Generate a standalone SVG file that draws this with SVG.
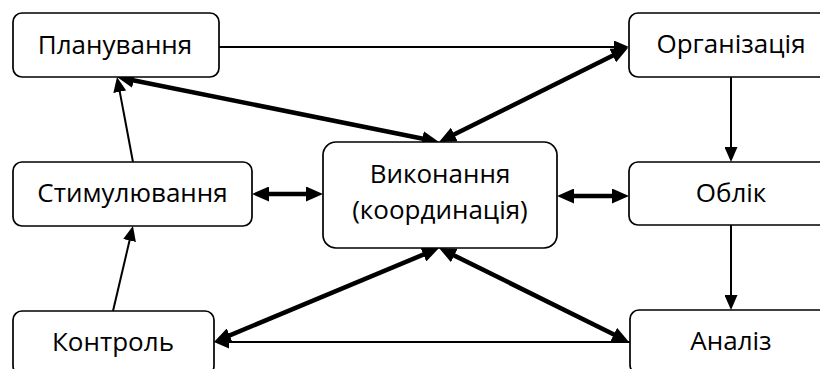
<svg xmlns="http://www.w3.org/2000/svg" width="820" height="369" viewBox="0 0 820 369">
  <style>
    .box { fill: #ffffff; stroke: #000000; stroke-width: 1.7; }
    .lbl { font-family: "Open Sans", "Noto Sans", "DejaVu Sans", sans-serif; font-size: 26px; fill: #000000; text-anchor: middle; }
    .thin { fill: none; stroke: #000000; stroke-width: 2; marker-end: url(#headThin); }
    .thick { fill: none; stroke: #000000; stroke-width: 4.5; marker-start: url(#headThick); marker-end: url(#headThick); }
  </style>
  <defs>
    <marker id="headThin" markerUnits="userSpaceOnUse" markerWidth="15" markerHeight="13" refX="9" refY="6.5" orient="auto">
      <path d="M0,0 L15,6.5 L0,13 z" fill="#000000"/>
    </marker>
    <marker id="headThick" markerUnits="userSpaceOnUse" markerWidth="17" markerHeight="15" refX="7" refY="7.5" orient="auto-start-reverse">
      <path d="M0,0 L17,7.5 L0,15 z" fill="#000000"/>
    </marker>
  </defs>

  <rect width="820" height="369" fill="#ffffff"/>

  <!-- connectors -->
  <g id="connectors">
    <line class="thin" x1="219" y1="47" x2="623" y2="47"/>
    <line class="thin" x1="731" y1="77" x2="731" y2="156"/>
    <line class="thin" x1="731" y1="225" x2="731" y2="304"/>
    <line class="thin" x1="630" y1="342" x2="220" y2="342"/>
    <line class="thin" x1="113" y1="311" x2="131.6" y2="231.8"/>
    <line class="thin" x1="133" y1="162" x2="118.1" y2="82.9"/>

    <line class="thick" x1="429.2" y1="140" x2="126.8" y2="79"/>
    <line class="thick" x1="448" y1="137.5" x2="619" y2="52.5"/>
    <line class="thick" x1="429.8" y1="251.9" x2="223.2" y2="338.1"/>
    <line class="thick" x1="448" y1="252.4" x2="620" y2="337.6"/>
    <line class="thick" x1="262" y1="194" x2="313" y2="194"/>
    <line class="thick" x1="567" y1="196" x2="619" y2="196"/>
  </g>

  <!-- nodes -->
  <g id="planuvannia">
    <rect class="box" x="13" y="13" width="206" height="64" rx="9"/>
    <text class="lbl" x="115" y="54">Планування</text>
  </g>
  <g id="orhanizatsiia">
    <rect class="box" x="629" y="13" width="206" height="64" rx="9"/>
    <text class="lbl" x="731" y="53">Організація</text>
  </g>
  <g id="stymuliuvannia">
    <rect class="box" x="13" y="162" width="239" height="64" rx="9"/>
    <text class="lbl" x="132.5" y="202">Стимулювання</text>
  </g>
  <g id="vykonannia">
    <rect class="box" x="323" y="142" width="234" height="106" rx="13"/>
    <text class="lbl" x="440" y="183">Виконання</text>
    <text class="lbl" x="440" y="219">(координація)</text>
  </g>
  <g id="oblik">
    <rect class="box" x="629" y="162" width="206" height="63" rx="9"/>
    <text class="lbl" x="731" y="202">Облік</text>
  </g>
  <g id="kontrol">
    <rect class="box" x="13" y="311" width="201" height="64" rx="9"/>
    <text class="lbl" x="113" y="351">Контроль</text>
  </g>
  <g id="analiz">
    <rect class="box" x="630" y="310" width="206" height="64" rx="9"/>
    <text class="lbl" x="731" y="350">Аналіз</text>
  </g>
</svg>
